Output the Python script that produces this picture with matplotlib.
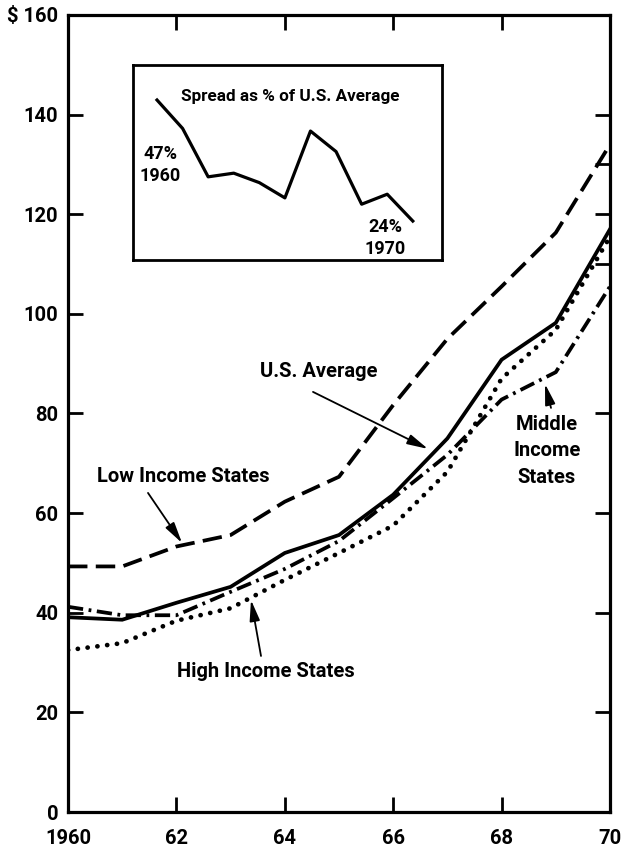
import matplotlib
matplotlib.use("Agg")
import matplotlib.pyplot as plt
from matplotlib import font_manager

# ---------------- data ----------------
years = [1960, 1961, 1962, 1963, 1964, 1965, 1966, 1967, 1968, 1969, 1970]
us_average = [39.1, 38.6, 42.0, 45.2, 52.0, 55.6, 63.7, 75.0, 90.8, 98.2, 117.0]
low_income = [49.3, 49.3, 53.3, 55.6, 62.3, 67.3, 81.7, 95.0, 105.5, 116.3, 134.0]
middle_income = [41.2, 39.5, 39.5, 44.2, 48.8, 54.4, 63.0, 71.7, 82.8, 88.3, 105.5]
high_income = [32.5, 33.9, 38.4, 40.9, 46.6, 52.0, 57.5, 68.3, 87.0, 96.8, 115.5]

spread_pct = [47.0, 41.6, 32.4, 33.1, 31.3, 28.4, 41.1, 37.2, 27.2, 29.1, 24.0]

x_ticks = [1960, 1962, 1964, 1966, 1968, 1970]
x_labels = ["1960", "62", "64", "66", "68", "70"]
y_ticks = [0, 20, 40, 60, 80, 100, 120, 140, 160]
y_labels = ["0", "20", "40", "60", "80", "100", "120", "140", "$ 160"]
right_ticks = [20, 40, 60, 80, 110, 120, 130, 140]

# ---------------- fonts ----------------
avail = {f.name for f in font_manager.fontManager.ttflist}
fam = "Roboto" if "Roboto" in avail else "DejaVu Sans"
plt.rcParams['font.family'] = [fam, 'DejaVu Sans']
plt.rcParams['font.weight'] = 'bold'
plt.rcParams['lines.scale_dashes'] = False

W, H = 621, 855
fig = plt.figure(figsize=(W / 100, H / 100), dpi=100)
ax = fig.add_axes([68 / W, 1 - 812 / H, (610 - 68) / W, (812 - 15) / H])

lw = 2.7
ax.plot(years, us_average, color='black', lw=lw, solid_joinstyle='miter')
ax.plot(years, low_income, color='black', lw=lw, dashes=(14, 6))
ax.plot(years, middle_income, color='black', lw=lw, dashes=(11, 4, 2, 4))
ax.plot(years, high_income, color='black', lw=3.4, dashes=(0.1, 7.0),
        dash_capstyle='round')

ax.set_xlim(1960, 1970)
ax.set_ylim(0, 160)
for s in ax.spines.values():
    s.set_linewidth(2.3)

ax.set_xticks(x_ticks)
ax.set_xticklabels(x_labels, fontsize=14.5, fontweight='bold')
ax.set_yticks(y_ticks)
ax.set_yticklabels(y_labels, fontsize=14.5, fontweight='bold')
ax.tick_params(axis='x', direction='in', length=11, width=2, pad=12, top=True)
ax.tick_params(axis='y', direction='in', length=11, width=2, pad=7)

# right-side ticks
axr = ax.twinx()
axr.set_ylim(0, 160)
axr.set_yticks(right_ticks)
axr.set_yticklabels([])
axr.tick_params(axis='y', direction='in', length=11, width=2)
for s in axr.spines.values():
    s.set_visible(False)


def px(x, y):
    """pixel position in the reference picture -> data coordinates"""
    return (1960 + (x - 68) / 54.2, (812 - y) / 4.98)


arrow = dict(arrowstyle='-|>,head_length=0.9,head_width=0.22', lw=1.3,
             color='black', shrinkA=0, shrinkB=0, mutation_scale=14)
tfont = dict(fontsize=14.5, fontweight='bold', ha='center', va='center')

ax.text(*px(183, 477), "Low Income States", **tfont)
ax.annotate("", xy=px(182, 543), xytext=px(148, 493), arrowprops=arrow)

ax.text(*px(319, 372), "U.S. Average", **tfont)
ax.annotate("", xy=px(428, 449), xytext=px(313, 392), arrowprops=arrow)

ax.text(*px(547, 451), "Middle\nIncome\nStates", linespacing=1.5, **tfont)
ax.annotate("", xy=px(545, 384), xytext=px(551, 408), arrowprops=arrow)

ax.text(*px(266, 672), "High Income States", **tfont)
ax.annotate("", xy=px(251, 600), xytext=px(261, 656), arrowprops=arrow)

# ---------------- inset ----------------
ins = fig.add_axes([132.7 / W, 1 - 260 / H, (441.7 - 132.7) / W, (260 - 65) / H])
ins.plot(years, spread_pct, color='black', lw=2.3)
ins.set_xlim(1959.05, 1971.13)
ins.set_ylim(16.6, 53.65)
ins.set_xticks([])
ins.set_yticks([])
for s in ins.spines.values():
    s.set_linewidth(2.0)


def ipx(x, y):
    return (1960 + (x - 157) / 25.57, 47 + (100 - y) * 0.19)


ins.text(*ipx(290, 97), "Spread as % of U.S. Average", fontsize=12.3,
         fontweight='bold', ha='center', va='center')
ins.text(*ipx(160, 165), "47%\n1960", fontsize=13, fontweight='bold',
         ha='center', va='center', linespacing=1.3)
ins.text(*ipx(385, 238), "24%\n1970", fontsize=13, fontweight='bold',
         ha='center', va='center', linespacing=1.3)

fig.savefig("out.png", dpi=100)
